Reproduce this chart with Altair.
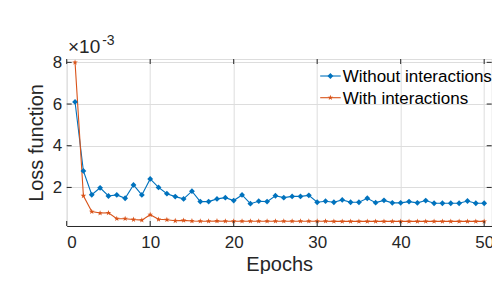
import altair as alt
import pandas as pd

# ---- data (loss values in units of 1e-3) ----
epochs = list(range(1, 51))
without_interactions = [6.1, 2.79, 1.65, 1.98, 1.59, 1.64, 1.48, 2.12, 1.64, 2.41,
                        2.0, 1.7, 1.56, 1.45, 1.82, 1.32, 1.32, 1.45, 1.51, 1.37,
                        1.64, 1.22, 1.34, 1.32, 1.6, 1.51, 1.57, 1.57, 1.62, 1.29,
                        1.34, 1.29, 1.4, 1.29, 1.29, 1.48, 1.27, 1.38, 1.26, 1.26,
                        1.32, 1.26, 1.37, 1.24, 1.24, 1.24, 1.24, 1.35, 1.24, 1.24]
with_interactions = [8.0, 1.6, 0.84, 0.77, 0.78, 0.5, 0.5, 0.46, 0.43, 0.69,
                     0.47, 0.45, 0.4, 0.42, 0.39, 0.38, 0.38, 0.39, 0.38, 0.38,
                     0.38, 0.38, 0.38, 0.38, 0.38, 0.38, 0.38, 0.38, 0.38, 0.38,
                     0.38, 0.37, 0.37, 0.37, 0.37, 0.37, 0.37, 0.37, 0.37, 0.37,
                     0.37, 0.37, 0.37, 0.37, 0.37, 0.37, 0.37, 0.37, 0.37, 0.37]
series_names = ["Without interactions", "With interactions"]
x_ticks = [0, 10, 20, 30, 40, 50]
y_ticks = [2, 4, 6, 8]

BLUE = "#0072BD"
ORANGE = "#D95319"
STAR = "M0,-1L0.235,-0.324L0.951,-0.309L0.380,0.124L0.588,0.809L0,0.4L-0.588,0.809L-0.380,0.124L-0.951,-0.309L-0.235,-0.324Z"
FONT = "Liberation Sans"

W, H = 425, 167

df = pd.concat([
    pd.DataFrame({"epoch": epochs, "loss": without_interactions, "series": series_names[0]}),
    pd.DataFrame({"epoch": epochs, "loss": with_interactions, "series": series_names[1]}),
])

xscale = alt.Scale(domain=[0, 50.9], nice=False, zero=False)
yscale = alt.Scale(domain=[0.15, 8.16], nice=False, zero=False)
color = alt.Color("series:N", scale=alt.Scale(domain=series_names, range=[BLUE, ORANGE]), legend=None)
shape = alt.Shape("series:N", scale=alt.Scale(domain=series_names, range=["diamond", STAR]), legend=None)

x_enc = alt.X("epoch:Q", scale=xscale, axis=alt.Axis(
    values=x_ticks, title="Epochs", grid=True, tickSize=0, domain=True, domainColor="#262626",
    labelFontSize=17, labelPadding=9, titleFontSize=20, titleFontWeight="normal",
    titleBaseline="alphabetic", titleY=44.5, labelColor="#262626", titleColor="#262626"))
y_enc = alt.Y("loss:Q", scale=yscale, axis=alt.Axis(
    values=y_ticks, title="Loss function", grid=True, tickSize=0, domain=False,
    labelFontSize=17, labelPadding=5, titleFontSize=20, titleFontWeight="normal",
    titleBaseline="alphabetic", titleX=-24.5, titleY=H / 2, titleAngle=-90,
    labelColor="#262626", titleColor="#262626"))

lines = alt.Chart(df).mark_line(strokeWidth=1.1).encode(
    x=x_enc, y=y_enc, color=color, detail="series:N")
points = alt.Chart(df).mark_point(filled=True, size=34, opacity=1).encode(
    x="epoch:Q", y="loss:Q", color=color, shape=shape)

xt = pd.DataFrame({"t": x_ticks})
yt = pd.DataFrame({"t": y_ticks})
tick_style = dict(color="#262626", strokeWidth=1)
xb = alt.Chart(xt).mark_rule(**tick_style).encode(x=alt.X("t:Q", scale=xscale), y=alt.value(H), y2=alt.value(H - 5))
xtp = alt.Chart(xt).mark_rule(**tick_style).encode(x=alt.X("t:Q", scale=xscale), y=alt.value(0), y2=alt.value(5))
yl = alt.Chart(yt).mark_rule(**tick_style).encode(y=alt.Y("t:Q", scale=yscale), x=alt.value(0), x2=alt.value(5))
yr = alt.Chart(yt).mark_rule(**tick_style).encode(y=alt.Y("t:Q", scale=yscale), x=alt.value(W - 5), x2=alt.value(W))

# manual legend
leg_layers = []
row_y = [17, 38.7]
colors = [BLUE, ORANGE]
shapes = ["diamond", STAR]
for i, name in enumerate(series_names):
    d = pd.DataFrame({"label": [name]})
    leg_layers.append(alt.Chart(d).mark_rule(color=colors[i], strokeWidth=1.1).encode(
        x=alt.value(253.5), x2=alt.value(274), y=alt.value(row_y[i])))
    leg_layers.append(alt.Chart(d).mark_point(filled=True, size=34, opacity=1, color=colors[i],
                                              shape=shapes[i]).encode(
        x=alt.value(263.7), y=alt.value(row_y[i])))
    leg_layers.append(alt.Chart(d).mark_text(align="left", baseline="middle", fontSize=17,
                                             font=FONT, color="#000000").encode(
        x=alt.value(276), y=alt.value(row_y[i] + 1), text="label:N"))

exp_df = pd.DataFrame({"a": ["×10"], "b": ["-3"]})
exp1 = alt.Chart(exp_df).mark_text(align="left", baseline="alphabetic", fontSize=19, font=FONT,
                                   color="#262626").encode(x=alt.value(1.3), y=alt.value(-5.7), text="a:N")
exp2 = alt.Chart(exp_df).mark_text(align="left", baseline="alphabetic", fontSize=14, font=FONT,
                                   color="#262626").encode(x=alt.value(35.5), y=alt.value(-14), text="b:N")

chart = alt.layer(lines, points, xb, xtp, yl, yr, *leg_layers, exp1, exp2).properties(
    width=W, height=H,
    autosize=alt.AutoSizeParams(type="none"),
    padding={"left": 58.7, "top": 51, "right": 0, "bottom": 48},
).configure_view(stroke="#404040", strokeWidth=1).configure_axis(
    gridColor="#dedede", gridWidth=1, labelFont=FONT, titleFont=FONT
).configure(background="white")

chart.save("out.html", embed_options={"renderer": "svg", "actions": False})
